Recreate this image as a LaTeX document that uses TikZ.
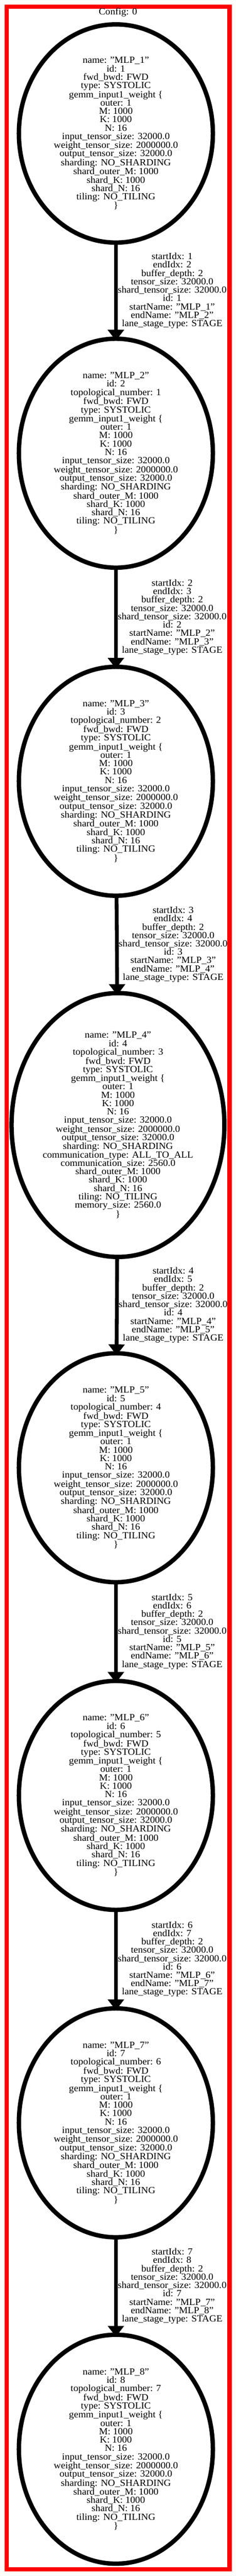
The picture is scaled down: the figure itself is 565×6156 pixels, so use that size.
\documentclass[tikz,border=0pt]{standalone}
\usepackage{fontspec}
\setmainfont{Liberation Serif}[FakeStretch=1.05]
\usetikzlibrary{shapes.geometric,arrows.meta,positioning}

\tikzset{
	every node/.style={font=\fontsize{22.5}{20}\selectfont},
	layer/.style={ellipse, draw, line width=10.5pt, inner sep=0pt, align=center, minimum width=464.5pt, minimum height=541.5pt},
	flow/.style={line width=9pt, -{Triangle[width=38pt,length=26pt]}, shorten >=-10pt},
	elabel/.style={right, inner sep=0pt, align=center},
}
% shared lines of every layer
\newcommand{\gemmlines}{gemm\_input1\_weight \{\\outer: 1\\M: 1000\\K: 1000\\N: 16\\input\_tensor\_size: 32000.0\\weight\_tensor\_size: 2000000.0\\output\_tensor\_size: 32000.0\\sharding: NO\_SHARDING}
\newcommand{\shardlines}{shard\_outer\_M: 1000\\shard\_K: 1000\\shard\_N: 16\\tiling: NO\_TILING}

\begin{document}
\begin{tikzpicture}[x=1pt,y=-1pt]
	\useasboundingbox (0,0) rectangle (565,6156);
	\draw[red,line width=10.5pt] (16,16) rectangle (549.75,6139.75); % cluster
	\node (title) at (282.5,30) {Config: 0};
	\node[layer, minimum height=521.5pt] (n1) at (277.5,319) {name: "MLP\_1"\\id: 1\\fwd\_bwd: FWD\\type: SYSTOLIC\\\gemmlines\\\shardlines\\\}};
	\foreach \i/\y in {2/1083,3/1867,5/3507.5,6/4290.5,7/5073,8/5853}{
		\pgfmathtruncatemacro\t{\i-1}
		\node[layer] (n\i) at (277.5,\y) {name: "MLP\_\i"\\id: \i\\topological\_number: \t\\fwd\_bwd: FWD\\type: SYSTOLIC\\\gemmlines\\\shardlines\\\}};
	}
	\node[layer, minimum width=508.5pt, minimum height=630.5pt] (n4) at (282.5,2688.5) {name: "MLP\_4"\\id: 4\\topological\_number: 3\\fwd\_bwd: FWD\\type: SYSTOLIC\\\gemmlines\\communication\_type: ALL\_TO\_ALL\\communication\_size: 2560.0\\\shardlines\\memory\_size: 2560.0\\\}};
	% stage edges
	\foreach \i in {1,...,7}{
		\pgfmathtruncatemacro\j{\i+1}
		\draw[flow] (n\i) -- (n\j) node[midway,elabel]{startIdx: \i\\endIdx: \j\\buffer\_depth: 2\\tensor\_size: 32000.0\\shard\_tensor\_size: 32000.0\\id: \i\\startName: "MLP\_\i"\\endName: "MLP\_\j"\\lane\_stage\_type: STAGE};
	}
\end{tikzpicture}
\end{document}
